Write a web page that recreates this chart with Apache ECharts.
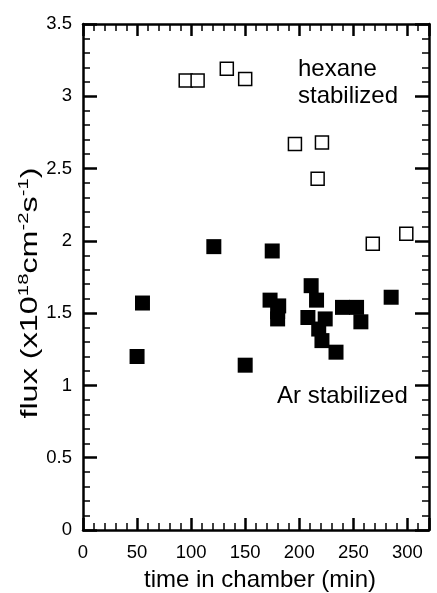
<!DOCTYPE html>
<html>
<head>
<meta charset="utf-8">
<script src="https://cdn.jsdelivr.net/npm/echarts@6/dist/echarts.min.js"></script>
<style>
html,body{margin:0;padding:0;background:#fff;}
#chart{width:437px;height:593px;}
</style>
</head>
<body>
<div id="chart"></div>
<script>
// hexane-stabilized (open squares)
var hexaneTime = [95, 106, 133, 150, 196, 221, 217, 268, 299];
var hexaneFlux = [3.11, 3.11, 3.19, 3.12, 2.67, 2.68, 2.43, 1.98, 2.05];
// Ar-stabilized (filled squares)
var arTime = [50, 55, 121, 150, 175, 173, 181, 180, 180, 211, 216, 208, 224, 218, 221, 234, 240, 253, 257, 285];
var arFlux = [1.20, 1.57, 1.96, 1.14, 1.93, 1.59, 1.55, 1.51, 1.46, 1.69, 1.59, 1.47, 1.46, 1.39, 1.31, 1.23, 1.54, 1.54, 1.44, 1.61];
var xTicks = [0, 50, 100, 150, 200, 250, 300];
var yTicks = [0, 0.5, 1, 1.5, 2, 2.5, 3, 3.5];

var FONT = '"Liberation Sans", Arial, Helvetica, sans-serif';
function pairs(xs, ys){ return xs.map(function(x,i){ return [x, ys[i]]; }); }

var chart = echarts.init(document.getElementById('chart'), null, {renderer:'canvas'});

function axisCommon(showLabel, pos, isX){
  return {
    type: 'value',
    position: pos,
    min: 0,
    max: isX ? 320 : 3.5,
    interval: isX ? 50 : 0.5,
    axisLine: {show: true, onZero: false, lineStyle: {color: '#000', width: 2.5}},
    axisTick: {show: true, inside: true, length: isX ? 12 : 14, lineStyle: {color: '#000', width: 2.5}},
    minorTick: {show: true, splitNumber: 5, length: 7, lineStyle: {color: '#000', width: 1.5}},
    splitLine: {show: false},
    minorSplitLine: {show: false},
    axisLabel: {
      show: showLabel,
      color: '#000',
      fontFamily: FONT,
      fontSize: 18.5,
      margin: isX ? 13 : 11,
      formatter: function(v){ return String(v); },
      showMaxLabel: !isX
    }
  };
}

var option = {
  animation: false,
  backgroundColor: '#fff',
  grid: {left: 83, right: 8, top: 24, bottom: 63, containLabel: false},
  xAxis: [
    axisCommon(true, 'bottom', true),
    axisCommon(false, 'top', true)
  ],
  yAxis: [
    axisCommon(true, 'left', false),
    axisCommon(false, 'right', false)
  ],
  series: [
    {
      type: 'scatter',
      xAxisIndex: 0, yAxisIndex: 0,
      data: pairs(arTime, arFlux),
      symbol: 'rect',
      symbolSize: 15,
      itemStyle: {color: '#000', opacity: 1},
      z: 3
    },
    {
      type: 'scatter',
      xAxisIndex: 0, yAxisIndex: 0,
      data: pairs(hexaneTime, hexaneFlux),
      symbol: 'rect',
      symbolSize: 13,
      itemStyle: {color: '#fff', borderColor: '#000', borderWidth: 1.5, opacity: 1},
      z: 3
    }
  ],
  graphic: [
    {
      type: 'text', x: 260, y: 580.6,
      style: {text: 'time in chamber (min)', align: 'center', verticalAlign: 'middle',
        font: '24px ' + FONT, fill: '#000'}
    },
    {
      type: 'text',
      x: 30, y: 293, rotation: Math.PI/2, scaleX: 1.35,
      style: {
        text: '{a|flux (x10}{s|18}{a|cm}{s|-2}{a|s}{s|-1}{a|)}',
        align: 'center', verticalAlign: 'middle',
        rich: {
          a: {fontSize: 24, fontFamily: FONT, fill: '#000', color: '#000', lineHeight: 28},
          s: {fontSize: 15, fontFamily: FONT, fill: '#000', color: '#000', lineHeight: 28, padding: [0,0,13,0]}
        }
      }
    },
    {
      type: 'text', x: 298, y: 69,
      style: {text: 'hexane', align: 'left', verticalAlign: 'middle', font: '24px ' + FONT, fill: '#000'}
    },
    {
      type: 'text', x: 298, y: 96.3,
      style: {text: 'stabilized', align: 'left', verticalAlign: 'middle', font: '24px ' + FONT, fill: '#000'}
    },
    {
      type: 'text', x: 277, y: 396.3,
      style: {text: 'Ar stabilized', align: 'left', verticalAlign: 'middle', font: '24px ' + FONT, fill: '#000'}
    }
  ]
};
chart.setOption(option);
</script>
</body>
</html>
